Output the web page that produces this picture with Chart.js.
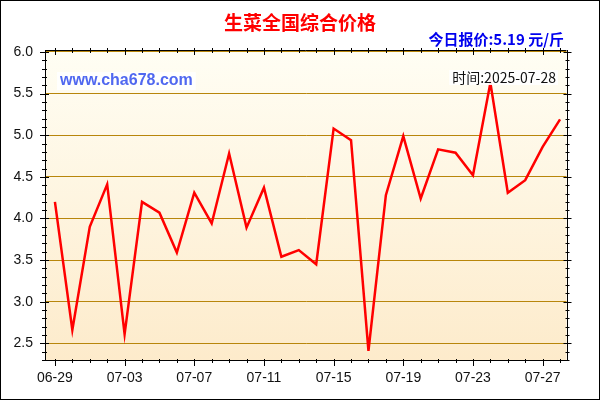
<!DOCTYPE html>
<html>
<head>
  <meta charset="utf-8">
  <script src="https://cdn.jsdelivr.net/npm/chart.js@4.4.1/dist/chart.umd.min.js"></script>
  <style>
    body { margin: 0; background: #fff; }
  </style>
</head>
<body>
  <canvas id="lettucePrice" width="600" height="400"></canvas>
  <script>
    var dates = ['06-29', '06-30', '07-01', '07-02', '07-03', '07-04', '07-05', '07-06', '07-07', '07-08',
                 '07-09', '07-10', '07-11', '07-12', '07-13', '07-14', '07-15', '07-16', '07-17', '07-18',
                 '07-19', '07-20', '07-21', '07-22', '07-23', '07-24', '07-25', '07-26', '07-27', '07-28'];
    var prices = [4.20, 2.66, 3.90, 4.41, 2.61, 4.20, 4.07, 3.59, 4.31, 3.94,
                  4.78, 3.89, 4.37, 3.54, 3.62, 3.45, 5.08, 4.94, 2.41, 4.28,
                  4.99, 4.24, 4.83, 4.79, 4.52, 5.63, 4.31, 4.46, 4.86, 5.19];
    var yLabels = [2.5, 3.0, 3.5, 4.0, 4.5, 5.0, 5.5, 6.0];
    var xLabelEvery = 4;

    var title = '生菜全国综合价格';
    var todayText = '今日报价:5.19 元/斤';
    var siteText = 'www.cha678.com';
    var timeText = '时间:2025-07-28';

    var points = prices.map(function (p, i) { return { x: i, y: p }; });

    var decorations = {
      id: 'decorations',
      beforeDraw: function (chart) {
        var ctx = chart.ctx, a = chart.chartArea;
        ctx.save();
        var g = ctx.createLinearGradient(0, a.top, 0, a.bottom);
        g.addColorStop(0, '#fffef4');
        g.addColorStop(1, '#fdebcb');
        ctx.fillStyle = g;
        ctx.fillRect(a.left, a.top, a.right - a.left, a.bottom - a.top);
        ctx.restore();
      },
      afterDraw: function (chart) {
        var ctx = chart.ctx, a = chart.chartArea;
        var x = chart.scales.x, y = chart.scales.y;
        ctx.save();
        ctx.strokeStyle = '#000';
        ctx.lineWidth = 1;
        ctx.beginPath();
        // top and right border
        ctx.moveTo(a.left, Math.round(a.top) + 0.5);
        ctx.lineTo(a.right, Math.round(a.top) + 0.5);
        ctx.moveTo(Math.round(a.right) + 0.5, a.top);
        ctx.lineTo(Math.round(a.right) + 0.5, a.bottom);
        // minor/major ticks on y
        for (var k = 23; k <= 60; k++) {
          var py = Math.round(y.getPixelForValue(k / 10)) + 0.5;
          var major = k % 5 === 0;
          ctx.moveTo(a.left - (major ? 5 : 3), py);
          ctx.lineTo(a.left + (major ? 4 : 2), py);
          ctx.moveTo(a.right - (major ? 3 : 1), py);
          ctx.lineTo(a.right + (major ? 5 : 3), py);
        }
        // ticks on x
        for (var d = 0; d < dates.length; d++) {
          var px = Math.round(x.getPixelForValue(d)) + 0.5;
          var big = d % xLabelEvery === 0;
          ctx.moveTo(px, a.bottom - 1);
          ctx.lineTo(px, a.bottom + (big ? 6 : 3));
          ctx.moveTo(px, a.top - 2);
          ctx.lineTo(px, a.top + (big ? 5 : 3));
        }
        ctx.stroke();

        // outer frame
        ctx.strokeRect(0.5, 0.5, 599, 399);

        // texts
        ctx.textBaseline = 'middle';
        ctx.fillStyle = '#ff0000';
        ctx.textAlign = 'center';
        ctx.font = 'bold 19px "Noto Sans CJK SC"';
        ctx.fillText(title, 300, 23);

        ctx.fillStyle = '#0000ee';
        ctx.textAlign = 'right';
        ctx.font = 'bold 15px "Noto Sans CJK SC"';
        ctx.fillText(todayText, 564, 39);

        ctx.font = 'bold 16px "Liberation Sans"';
        var w = ctx.measureText(siteText).width;
        ctx.fillStyle = 'rgba(255,255,255,0.85)';
        ctx.fillRect(57, 72, w + 6, 18);
        ctx.fillStyle = '#5068f0';
        ctx.textAlign = 'left';
        ctx.fillText(siteText, 60, 81);

        ctx.font = '14px "Noto Sans CJK SC"';
        w = ctx.measureText(timeText).width;
        ctx.fillStyle = 'rgba(255,255,255,0.9)';
        ctx.fillRect(556 - w - 3, 70, w + 5, 15);
        ctx.fillStyle = '#111';
        ctx.textAlign = 'right';
        ctx.fillText(timeText, 556, 78);
        ctx.restore();
      }
    };

    new Chart(document.getElementById('lettucePrice').getContext('2d'), {
      type: 'line',
      data: {
        datasets: [{
          data: points,
          borderColor: '#ff0000',
          borderWidth: 2.5,
          pointRadius: 0,
          tension: 0,
          fill: false
        }]
      },
      options: {
        responsive: false,
        animation: false,
        devicePixelRatio: 1,
        layout: { padding: { top: 50, right: 33.5, left: 0, bottom: 0 } },
        plugins: { legend: { display: false }, tooltip: { enabled: false } },
        scales: {
          x: {
            type: 'linear',
            min: -0.57,
            max: 29.37,
            afterFit: function (s) { s.height = 40; },
            afterBuildTicks: function (s) {
              s.ticks = dates.map(function (d, i) { return { value: i }; })
                .filter(function (t) { return t.value % xLabelEvery === 0; });
            },
            ticks: {
              autoSkip: false,
              maxRotation: 0,
              padding: 10,
              color: '#111',
              font: { family: 'Liberation Sans', size: 14 },
              callback: function (v) { return dates[v]; }
            },
            grid: { drawOnChartArea: false, drawTicks: false },
            border: { color: '#000', width: 1 }
          },
          y: {
            min: 2.3,
            max: 6.024,
            afterFit: function (s) { s.width = 45; },
            afterBuildTicks: function (s) {
              s.ticks = yLabels.map(function (v) { return { value: v }; });
            },
            ticks: {
              padding: 12,
              color: '#111',
              font: { family: 'Liberation Sans', size: 14 },
              callback: function (v) { return v.toFixed(1); }
            },
            grid: { color: '#b8860b', lineWidth: 1, drawTicks: false },
            border: { color: '#000', width: 1 }
          }
        }
      },
      plugins: [decorations]
    });
  </script>
</body>
</html>
